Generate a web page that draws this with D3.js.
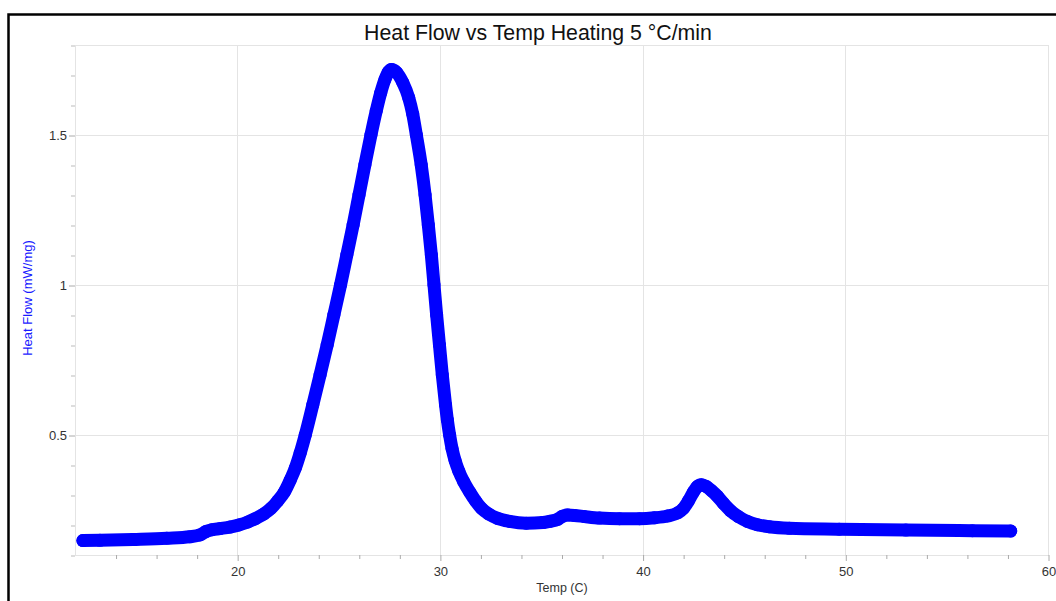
<!DOCTYPE html>
<html>
<head>
<meta charset="utf-8">
<script src="https://cdn.jsdelivr.net/npm/d3@7"></script>
<style>
  html, body { margin: 0; padding: 0; background: #fff; }
  svg { display: block; }
</style>
</head>
<body>
<svg id="chart" width="1056" height="601"></svg>
<script>
// DSC heating scan, 5 °C/min
const temps = [12.39, 13.23, 14.86, 16.53, 17.67, 18.16, 18.46, 18.75, 19.15, 19.64,
  20.08, 20.53, 20.92, 21.32, 21.66, 22.00, 22.33, 22.62, 22.87, 23.11,
  23.36, 23.73, 24.09, 24.44, 24.77, 25.10, 25.41, 25.72, 26.01, 26.30,
  26.60, 26.86, 27.08, 27.29, 27.46, 27.61, 27.87, 28.17, 28.46, 28.66,
  28.84, 29.08, 29.27, 29.43, 29.58, 29.71, 29.84, 29.98, 30.12, 30.28,
  30.37, 30.48, 30.60, 30.75, 30.93, 31.17, 31.47, 31.76, 32.06, 32.40,
  32.85, 33.44, 34.26, 35.08, 35.41, 35.81, 36.05, 36.30, 36.64, 37.14,
  37.87, 38.86, 39.85, 40.59, 41.23, 41.72, 42.01, 42.26, 42.51, 42.70,
  42.90, 43.15, 43.39, 43.69, 43.99, 44.33, 44.73, 45.17, 45.66, 46.25,
  47.24, 49.70, 52.99, 56.27, 58.16];
const heatFlow = [0.148, 0.149, 0.152, 0.156, 0.161, 0.167, 0.178, 0.184, 0.188, 0.193,
  0.200, 0.210, 0.222, 0.237, 0.255, 0.280, 0.310, 0.350, 0.390, 0.440,
  0.500, 0.600, 0.700, 0.800, 0.900, 1.000, 1.100, 1.200, 1.300, 1.400,
  1.500, 1.580, 1.640, 1.685, 1.710, 1.718, 1.708, 1.675, 1.625, 1.570,
  1.500, 1.400, 1.300, 1.200, 1.100, 1.000, 0.900, 0.800, 0.700, 0.600,
  0.550, 0.500, 0.455, 0.415, 0.380, 0.345, 0.310, 0.280, 0.255, 0.237,
  0.222, 0.212, 0.206, 0.208, 0.212, 0.219, 0.229, 0.233, 0.232, 0.228,
  0.223, 0.221, 0.221, 0.224, 0.230, 0.240, 0.255, 0.280, 0.310, 0.328,
  0.334, 0.328, 0.315, 0.296, 0.272, 0.248, 0.228, 0.212, 0.201, 0.194,
  0.189, 0.186, 0.183, 0.181, 0.180];

const xMajorTicks = [20, 30, 40, 50, 60];
const xMinorTicks = [14, 16, 18, 22, 24, 26, 28, 32, 34, 36, 38, 42, 44, 46, 48, 52, 54, 56, 58];
const yMajorTicks = [0.5, 1, 1.5];
const yMinorTicks = [0.1, 0.2, 0.3, 0.4, 0.6, 0.7, 0.8, 0.9, 1.1, 1.2, 1.3, 1.4, 1.6, 1.7, 1.8];
const yTickLabels = ["0.5", "1", "1.5"];

const titleText = "Heat Flow vs Temp Heating 5 \u00B0C/min";
const xTitle = "Temp (C)";
const yTitle = "Heat Flow (mW/mg)";

const svg = d3.select("#chart");
const font = "'Liberation Sans', Arial, sans-serif";

const plot = { left: 75, right: 1048, top: 45, bottom: 555 };
const x = d3.scaleLinear().domain([12, 60]).range([plot.left, plot.right]);
const y = d3.scaleLinear().domain([0.1, 1.8]).range([plot.bottom, plot.top]);

// outer frame
svg.append("path")
  .attr("d", `M8.5,601 L8.5,14.5 L1056,14.5`)
  .attr("fill", "none").attr("stroke", "#000").attr("stroke-width", 2.5);

// plot frame and grid
const grid = svg.append("g").attr("stroke", "#e4e4e4").attr("stroke-width", 1).attr("fill", "none");
grid.append("rect")
  .attr("x", plot.left + 0.5).attr("y", plot.top + 0.5)
  .attr("width", plot.right - plot.left).attr("height", plot.bottom - plot.top);
grid.selectAll("line.gx").data(xMajorTicks).join("line")
  .attr("x1", d => Math.round(x(d)) + 0.5).attr("x2", d => Math.round(x(d)) + 0.5)
  .attr("y1", plot.top).attr("y2", plot.bottom);
grid.selectAll("line.gy").data(yMajorTicks).join("line")
  .attr("y1", d => Math.round(y(d)) + 0.5).attr("y2", d => Math.round(y(d)) + 0.5)
  .attr("x1", plot.left).attr("x2", plot.right);

// x axis
const xAxis = d3.axisBottom(x).tickValues(xMajorTicks).tickSize(6).tickPadding(6)
  .tickFormat(d3.format("d"));
const gx = svg.append("g").attr("transform", `translate(0.5,${plot.bottom})`).call(xAxis);
gx.select(".domain").remove();
gx.selectAll(".tick line").attr("stroke", "#aaa");
gx.selectAll(".tick text").attr("fill", "#333").style("font", `13px ${font}`);
const xMinor = d3.axisBottom(x).tickValues(xMinorTicks).tickSize(4).tickFormat("");
const gxm = svg.append("g").attr("transform", `translate(0.5,${plot.bottom})`).call(xMinor);
gxm.select(".domain").remove();
gxm.selectAll(".tick line").attr("stroke", "#aaa");

// y axis
const yAxis = d3.axisLeft(y).tickValues(yMajorTicks).tickSize(6).tickPadding(2)
  .tickFormat((d, i) => yTickLabels[i]);
const gy = svg.append("g").attr("transform", `translate(${plot.left},0.5)`).call(yAxis);
gy.select(".domain").remove();
gy.selectAll(".tick line").attr("stroke", "#aaa");
gy.selectAll(".tick text").attr("fill", "#333").style("font", `13px ${font}`);
const yMinor = d3.axisLeft(y).tickValues(yMinorTicks).tickSize(4).tickFormat("");
const gym = svg.append("g").attr("transform", `translate(${plot.left},0.5)`).call(yMinor);
gym.select(".domain").remove();
gym.selectAll(".tick line").attr("stroke", "#bbb");

// titles
svg.append("text").attr("x", 538).attr("y", 40).attr("text-anchor", "middle")
  .attr("fill", "#111").style("font", `21.3px ${font}`).text(titleText);
svg.append("text").attr("x", 562).attr("y", 592).attr("text-anchor", "middle")
  .attr("fill", "#333").style("font", `12.5px ${font}`).text(xTitle);
svg.append("text").attr("transform", "translate(32,298) rotate(-90)")
  .attr("text-anchor", "middle").attr("fill", "#1a1aff")
  .style("font", `13px ${font}`).text(yTitle);

// heat flow trace, drawn as a heavy marker line
const pts = temps.map((t, i) => [t, heatFlow[i]]);
const line = d3.line().x(d => x(d[0])).y(d => y(d[1])).curve(d3.curveMonotoneX);
svg.append("path").datum(pts)
  .attr("d", line).attr("fill", "none").attr("stroke", "#0000ff")
  .attr("stroke-width", 13).attr("stroke-linecap", "round").attr("stroke-linejoin", "round");
svg.append("g").selectAll("circle").data(pts).join("circle")
  .attr("cx", d => x(d[0])).attr("cy", d => y(d[1])).attr("r", 6.5).attr("fill", "#0000ff");
</script>
</body>
</html>
